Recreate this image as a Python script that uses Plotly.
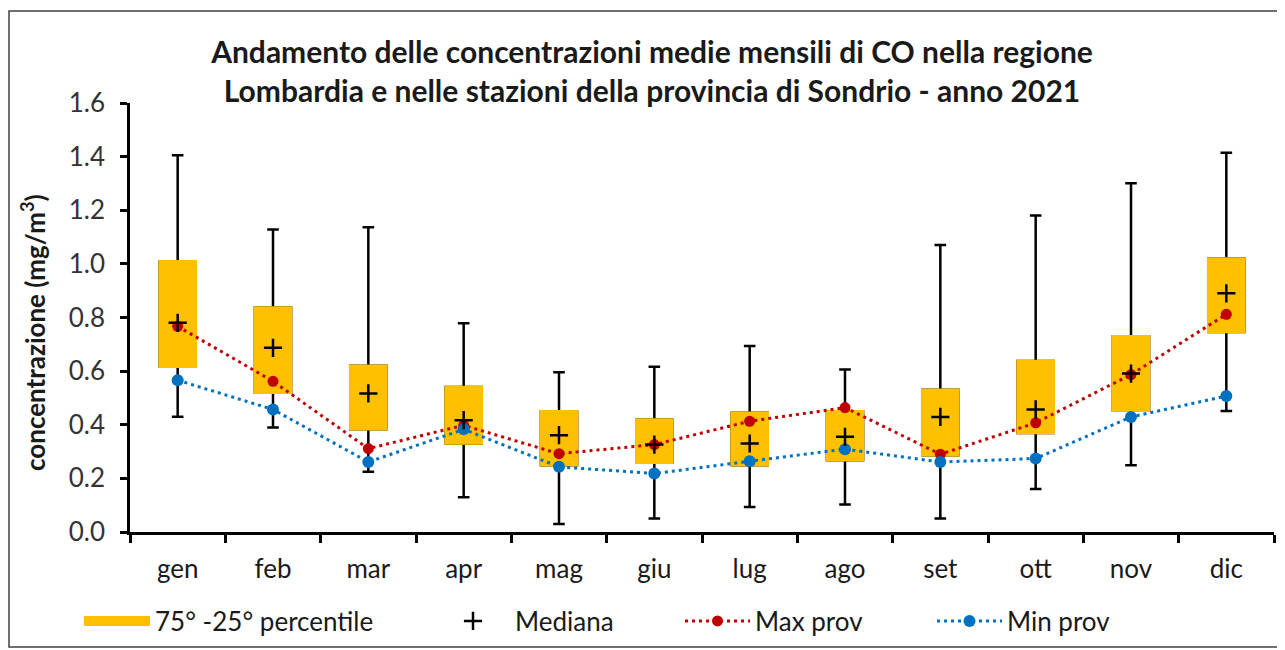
import plotly.graph_objects as go

months = ["gen", "feb", "mar", "apr", "mag", "giu", "lug", "ago", "set", "ott", "nov", "dic"]
whisker_low = [0.43, 0.39, 0.225, 0.13, 0.03, 0.05, 0.093, 0.103, 0.05, 0.16, 0.249, 0.451]
p25 = [0.616, 0.519, 0.383, 0.33, 0.249, 0.258, 0.249, 0.268, 0.286, 0.369, 0.452, 0.746]
median = [0.78, 0.687, 0.517, 0.417, 0.361, 0.326, 0.33, 0.355, 0.429, 0.457, 0.591, 0.89]
p75 = [1.01, 0.837, 0.62, 0.541, 0.45, 0.42, 0.445, 0.45, 0.531, 0.638, 0.73, 1.02]
whisker_high = [1.405, 1.128, 1.137, 0.779, 0.596, 0.616, 0.694, 0.606, 1.07, 1.18, 1.301, 1.414]
max_prov = [0.767, 0.562, 0.311, 0.398, 0.292, 0.326, 0.413, 0.464, 0.29, 0.407, 0.587, 0.812]
min_prov = [0.566, 0.457, 0.261, 0.383, 0.243, 0.218, 0.264, 0.309, 0.261, 0.274, 0.429, 0.507]
y_ticks = [0.0, 0.2, 0.4, 0.6, 0.8, 1.0, 1.2, 1.4, 1.6]

ORANGE = "#FFC000"
RED = "#C00000"
BLUE = "#0070C0"
FONT = "Lato"
TXT = "#1a1a1a"

fig = go.Figure()

# whiskers (black box underneath, covered by the percentile box)
fig.add_trace(go.Box(
    x=months, q1=p25, median=median, q3=p75,
    lowerfence=whisker_low, upperfence=whisker_high,
    width=0.38, whiskerwidth=0.32,
    line=dict(color="black", width=2.5), fillcolor=ORANGE,
    boxpoints=False, showlegend=False, hoverinfo="skip",
))
# 75-25 percentile box
fig.add_trace(go.Box(
    x=months, q1=p25, median=median, q3=p75,
    lowerfence=p25, upperfence=p75,
    width=0.38, whiskerwidth=0,
    line=dict(color=ORANGE, width=2.5), fillcolor=ORANGE,
    boxpoints=False, showlegend=False, hoverinfo="skip",
))
# legend entry for the percentile box
fig.add_trace(go.Scatter(
    x=[None], y=[None], mode="lines", name="75° -25° percentile",
    line=dict(color=ORANGE, width=15), legend="legend",
))
fig.add_trace(go.Scatter(
    x=months, y=max_prov, mode="lines+markers", name="Max prov",
    line=dict(color=RED, width=3, dash="3px,4px"),
    marker=dict(color=RED, size=11, symbol="circle"), legend="legend3",
))
fig.add_trace(go.Scatter(
    x=months, y=min_prov, mode="lines+markers", name="Min prov",
    line=dict(color=BLUE, width=3, dash="3px,4px"),
    marker=dict(color=BLUE, size=12, symbol="circle"), legend="legend4",
))
fig.add_trace(go.Scatter(
    x=months, y=median, mode="markers", name="Mediana",
    marker=dict(symbol="cross-thin", size=13, line=dict(color="black", width=2.5)),
    legend="legend2",
))

# the page body has an 8px margin: figure coords = screen coords - 8
OFF = 8
W, H = 1285 - OFF, 650 - OFF
L = 130 - OFF
R = W - (1274 - OFF)
T = 103 - OFF
B = H - (532 - OFF)
pw = W - L - R
ph = H - T - B

def px_x(p):
    return (p - OFF - L) / pw

def px_y(p):
    return (H - B - (p - OFF)) / ph

def leg(xpx, iw):
    return dict(orientation="h", xanchor="left", yanchor="middle",
                x=px_x(xpx), y=px_y(621), itemwidth=iw,
                font=dict(family=FONT, size=26, color=TXT),
                bgcolor="rgba(0,0,0,0)")

fig.update_layout(
    width=W, height=H,
    margin=dict(l=L, r=R, t=T, b=B, autoexpand=False),
    paper_bgcolor="white", plot_bgcolor="white",
    font=dict(family=FONT, color=TXT),
    title=dict(
        text="<b>Andamento delle concentrazioni medie mensili di CO nella regione<br>Lombardia e nelle stazioni della provincia di Sondrio - anno 2021</b>",
        x=(652 - OFF) / W, xanchor="center", y=1 - 55 / H, yanchor="middle",
        font=dict(family=FONT, size=30, color=TXT),
    ),
    xaxis=dict(
        type="category", range=[-0.5, len(months) - 0.5],
        showline=True, linecolor="black", linewidth=2.5,
        ticks="outside", tickson="boundaries", ticklen=8, tickwidth=2.5, tickcolor="black",
        showgrid=False, zeroline=False, automargin=False,
        tickfont=dict(family=FONT, size=26, color=TXT), ticklabelstandoff=12,
    ),
    yaxis=dict(
        range=[0, 1.6], tickvals=y_ticks, tickformat=".1f",
        showline=True, linecolor="black", linewidth=2.5,
        ticks="outside", ticklen=7, tickwidth=2.5, tickcolor="black",
        showgrid=False, zeroline=False, automargin=False,
        tickfont=dict(family=FONT, size=26, color="#333333"), ticklabelstandoff=10,
    ),
    annotations=[dict(
        text="<b>concentrazione (mg/m<sup>3</sup>)</b>", textangle=-90,
        xref="paper", yref="paper", x=px_x(33), y=px_y(333),
        xanchor="center", yanchor="middle", showarrow=False,
        font=dict(family=FONT, size=26, color=TXT),
    )],
    legend=leg(79, 66),
    legend2=leg(431, 74),
    legend3=leg(680, 65),
    legend4=leg(932, 65),
    showlegend=True,
    shapes=[dict(type="rect", xref="paper", yref="paper",
                 x0=px_x(9), x1=px_x(1282), y0=px_y(647), y1=px_y(11),
                 line=dict(color="#404040", width=1.5), fillcolor="rgba(0,0,0,0)", layer="below")],
)

fig.write_html("out.html")
